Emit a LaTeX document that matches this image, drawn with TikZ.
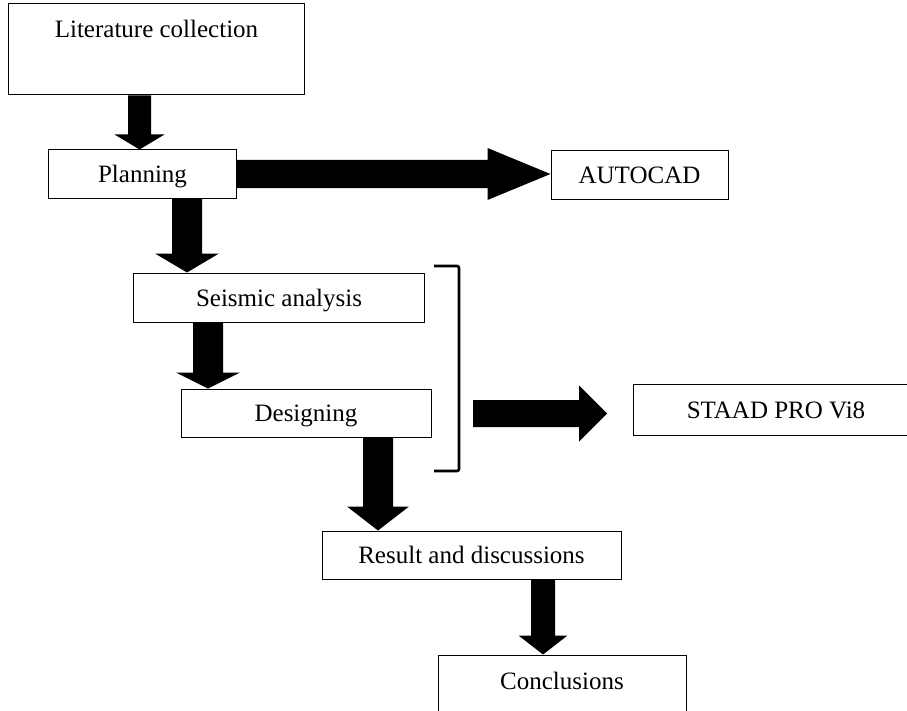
\documentclass[tikz,border=0pt]{standalone}
\usepackage{fontspec}
\setmainfont{Liberation Serif}
\usetikzlibrary{calc}
\newcommand{\dblk}[5]{\fill let \p1=(#1), \p2=(#2) in (\x1-#3,\y1) -- (\x1+#3,\y1) -- (\x1+#3,\y2+#5) -- (\x1+#4,\y2+#5) -- (\x1,\y2) -- (\x1-#4,\y2+#5) -- (\x1-#3,\y2+#5) -- cycle;}
\newcommand{\rblk}[5]{\fill let \p1=(#1), \p2=(#2) in (\x1,\y1+#3) -- (\x2-#5,\y1+#3) -- (\x2-#5,\y1+#4) -- (\x2,\y1) -- (\x2-#5,\y1-#4) -- (\x2-#5,\y1-#3) -- (\x1,\y1-#3) -- cycle;}
\tikzset{
  box/.style={draw, line width=1bp, inner sep=0pt, text height=17.5bp, text depth=0.5bp,
    font=\fontsize{25bp}{30bp}\selectfont},
}
\begin{document}
\begin{tikzpicture}[x=1bp, y=-1bp]
\useasboundingbox (0,0) rectangle (907,711);
\clip (0,0) rectangle (907,711);
\node[box, minimum width=295bp, minimum height=91bp, text height=0bp, text depth=23bp] (lit) at (156.5,49.5) {Literature collection};
\node[box, minimum width=187bp, minimum height=48bp] (pl) at (142.5,174) {Planning};
\node[box, minimum width=177bp, minimum height=48bp] (auto) at (639.5,175) {AUTOCAD};
\node[box, minimum width=290bp, minimum height=49bp] (seis) at (279,297.5) {Seismic analysis};
\node[box, minimum width=250bp, minimum height=48bp] (des) at (306,413) {Designing};
\node[box, minimum width=286bp, minimum height=51bp] (staad) at (776,409.5) {STAAD PRO Vi8};
\node[box, minimum width=299bp, minimum height=48bp] (res) at (471.5,555) {Result and discussions};
\node[box, minimum width=248bp, minimum height=60bp, text height=8bp, text depth=0bp] (conc) at (562,685) {Conclusions};
% connector start points
\coordinate (a1) at ([xshift=-17bp]lit.south);
\coordinate (a2) at ([xshift=44.5bp]pl.south);
\coordinate (a3) at ([xshift=-71bp]seis.south);
\coordinate (a4) at ([xshift=72bp]des.south);
\coordinate (a5) at ([xshift=71.5bp]res.south);
\coordinate (bs) at (473,413.5);
\coordinate (be) at (607,413.5);
\dblk{a1}{pl.north}{11.5bp}{25bp}{15bp}
\dblk{a2}{seis.north}{15bp}{32bp}{19bp}
\dblk{a3}{des.north}{15bp}{32bp}{16bp}
\dblk{a4}{res.north}{15bp}{31bp}{24bp}
\dblk{a5}{conc.north}{12bp}{24.5bp}{19bp}
\rblk{pl.east}{auto.west}{14bp}{26bp}{63bp}
\rblk{bs}{be}{13.5bp}{28bp}{28bp}
% bracket
\draw[line width=2.6bp, rounded corners=2bp] (434,266) -- (459,266) -- (459,471) -- (434,471);
\end{tikzpicture}
\end{document}
